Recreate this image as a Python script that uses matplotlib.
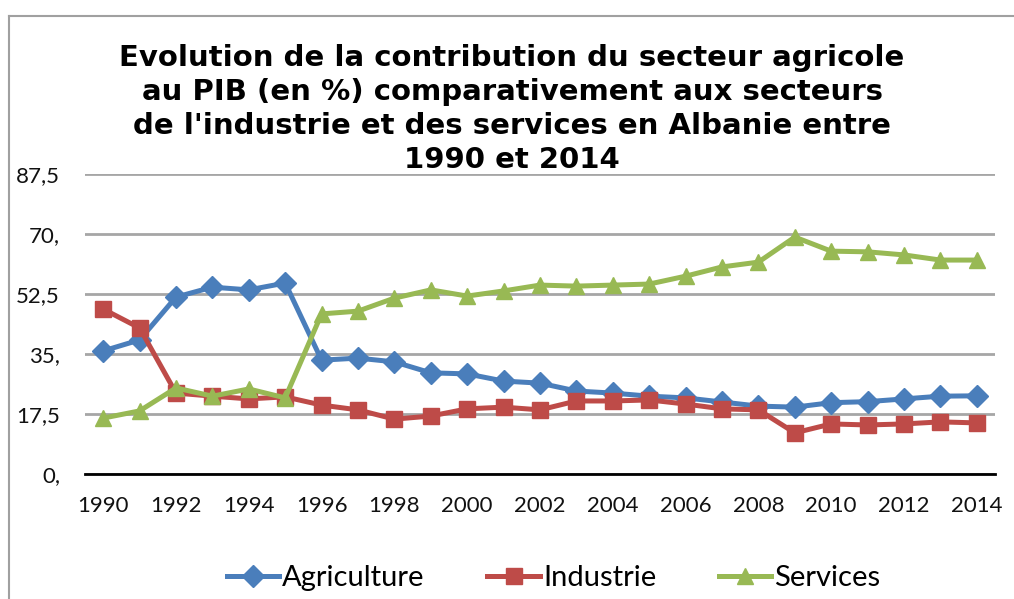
import matplotlib
matplotlib.use("Agg")
from matplotlib import pyplot as plt
from matplotlib.lines import Line2D

plt.rcParams['font.family'] = ['Lato', 'DejaVu Sans']

# valeurs en % du PIB, 1990-2014
years = list(range(1990, 2015))
agriculture = [35.9, 39.1, 51.6, 54.5, 53.7, 55.7, 33.2, 33.8, 32.7, 29.5, 29.2, 27.1, 26.5,
               24.2, 23.6, 22.7, 22.2, 21.0, 19.8, 19.5, 20.8, 21.1, 21.9, 22.7, 22.8]
industrie = [48.1, 42.6, 23.6, 22.7, 21.9, 22.5, 20.1, 18.7, 16.0, 16.9, 19.0, 19.5, 18.7,
             21.3, 21.3, 21.6, 20.4, 19.0, 18.7, 12.0, 14.6, 14.3, 14.6, 15.2, 14.9]
services = [16.3, 18.4, 25.1, 22.7, 24.8, 22.2, 46.7, 47.5, 51.3, 53.7, 51.9, 53.4, 55.1,
            54.8, 55.1, 55.4, 57.7, 60.4, 61.8, 69.1, 65.0, 64.8, 63.9, 62.4, 62.4]
yticks = [0, 17.5, 35, 52.5, 70, 87.5]
ytick_labels = ["0,", "17,5", "35,", "52,5", "70,", "87,5"]
xticks = list(range(1990, 2015, 2))

title = ("Evolution de la contribution du secteur agricole\n"
         "au PIB (en %) comparativement aux secteurs\n"
         "de l'industrie et des services en Albanie entre\n"
         "1990 et 2014")

fig = plt.figure(figsize=(10.14, 5.99), dpi=100)
ax = fig.add_axes([0.0838, 0.2087, 0.8975, 0.5008])

# cadre gris autour du graphique
fig.add_artist(Line2D([9 / 1014, 1.0], [1 - 16 / 599] * 2, transform=fig.transFigure,
                      color="#a0a0a0", lw=1.5))
fig.add_artist(Line2D([9 / 1014] * 2, [0, 1 - 16 / 599], transform=fig.transFigure,
                      color="#a0a0a0", lw=1.5))

ax.plot(years, agriculture, color="#4a7ebb", lw=3.6, marker="D", ms=11, label="Agriculture", zorder=3)
ax.plot(years, industrie, color="#be4b48", lw=3.6, marker="s", ms=11, label="Industrie", zorder=3)
ax.plot(years, services, color="#98b954", lw=3.6, marker="^", ms=12, label="Services", zorder=3)

ax.set_xlim(1989.5, 2014.5)
ax.set_ylim(0, 87.5)
ax.set_yticks(yticks)
ax.set_yticklabels(ytick_labels)
ax.set_xticks(xticks)
ax.tick_params(axis="both", length=0, labelsize=16, labelcolor="#111111")
ax.tick_params(axis="y", pad=18)
ax.tick_params(axis="x", pad=16)
ax.yaxis.grid(True, color="#a6a6a6", lw=2)
ax.set_axisbelow(True)
for side in ["left", "right", "top"]:
    ax.spines[side].set_visible(False)
ax.spines["bottom"].set_color("black")
ax.spines["bottom"].set_linewidth(2)

fig.text(0.505, 0.818, title, ha="center", va="center", fontsize=21, fontweight="bold",
         family="DejaVu Sans", linespacing=1.27)

fig.legend(loc="center", bbox_to_anchor=(0.546, 0.035), ncol=3, frameon=False,
           fontsize=21, handlelength=1.8, handletextpad=0.1, columnspacing=2.15)

fig.savefig("out.png", dpi=100)
